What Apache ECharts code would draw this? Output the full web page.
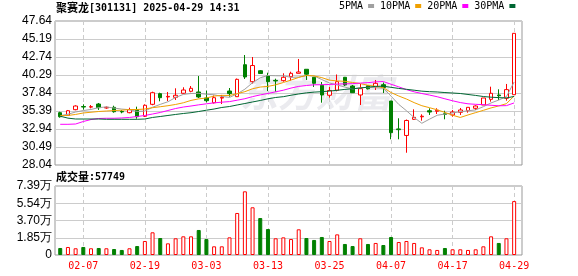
<!DOCTYPE html>
<html><head><meta charset="utf-8">
<script src="https://cdn.jsdelivr.net/npm/echarts@6/dist/echarts.min.js"></script>
<style>html,body{margin:0;padding:0;background:#fff}#c{width:578px;height:276px}</style>
</head><body><div id="c"></div>
<script>
const dates = ['01-27','02-05','02-06','02-07','02-10','02-11','02-12','02-13','02-14','02-17',
'02-18','02-19','02-20','02-21','02-24','02-25','02-26','02-27','02-28','03-03',
'03-04','03-05','03-06','03-07','03-10','03-11','03-12','03-13','03-14','03-17',
'03-18','03-19','03-20','03-21','03-24','03-25','03-26','03-27','03-28','03-31',
'04-01','04-02','04-03','04-07','04-08','04-09','04-10','04-11','04-14','04-15',
'04-16','04-17','04-18','04-21','04-22','04-23','04-24','04-25','04-28','04-29'];
const opens = [35.16,34.81,35.57,36.00,35.92,36.34,35.80,35.89,35.32,35.16,
35.57,34.67,36.30,37.75,37.30,37.25,37.80,38.07,37.98,37.16,
36.51,37.15,38.11,37.34,41.69,39.38,40.87,40.19,39.56,39.52,
40.06,40.52,41.07,39.98,38.89,37.53,38.21,39.98,38.79,37.57,
38.83,38.70,38.97,36.75,32.95,32.06,34.26,34.60,35.43,35.35,
35.02,34.85,35.21,35.43,35.76,36.21,36.98,37.57,37.12,37.61];
const closes = [34.61,35.43,36.07,35.93,35.98,35.84,35.90,35.29,35.26,35.57,
34.61,36.17,37.88,37.20,37.38,37.53,38.25,38.48,37.30,36.79,
37.20,37.25,37.75,39.70,40.02,41.58,40.49,39.38,39.48,39.98,
40.52,40.70,40.40,39.16,37.57,38.18,39.38,38.93,37.88,38.43,
38.41,39.16,38.59,32.44,32.85,34.10,34.53,34.68,35.25,35.49,
34.94,35.25,35.53,35.89,36.07,37.16,37.80,37.46,38.30,45.96];
const lows = [34.48,34.71,35.49,35.57,35.75,35.53,35.70,35.16,35.08,35.08,
34.34,34.57,36.17,36.71,36.75,36.89,37.70,37.94,37.15,36.55,
36.41,36.34,37.34,37.30,39.75,39.13,40.43,38.10,38.02,39.38,
39.52,40.52,39.61,38.66,36.52,37.20,38.07,38.79,37.84,36.21,
38.32,38.25,37.84,31.54,31.54,29.71,34.17,34.07,34.85,34.98,
34.26,34.61,34.85,35.16,35.53,36.21,36.66,36.89,36.79,37.61];
const highs = [35.29,35.53,36.17,36.30,36.20,36.48,36.00,36.11,35.52,35.84,
35.98,36.30,38.02,37.88,37.98,38.48,38.62,38.79,40.15,38.18,
37.50,37.57,38.52,39.81,43.01,42.74,40.97,40.60,39.79,40.52,
40.74,42.47,41.07,40.02,39.34,38.66,40.36,40.02,38.93,39.07,
38.89,39.61,39.27,36.75,34.40,34.23,35.62,34.94,35.76,35.76,
35.43,35.53,35.80,35.89,36.17,37.16,38.70,38.34,39.07,45.96];
const volumes = [7500,8600,7200,8600,7200,7500,7200,6400,5400,7200,
9600,15000,24300,18200,12500,17900,20000,20000,26800,17100,
9300,9300,18900,45000,68200,51100,39600,27800,17900,18900,
17100,27500,18200,16100,19300,15000,22100,11800,9600,17900,
11800,12900,10700,19300,13900,15000,12900,8200,6100,5400,
7500,6100,6100,5400,6100,9300,20000,12900,17900,57749];
const ma5 = [34.75,34.95,35.25,35.45,35.60,35.85,35.94,35.79,35.65,35.57,
35.33,35.38,35.90,36.29,36.65,37.23,37.65,37.77,37.79,37.67,
37.60,37.38,37.24,37.72,38.36,39.24,39.91,40.23,40.19,40.18,
39.97,40.01,40.22,40.15,39.67,39.20,38.94,38.64,38.39,38.56,
38.61,38.56,38.49,37.41,36.29,35.43,34.50,33.72,34.28,34.81,
34.98,35.12,35.29,35.42,35.54,35.98,36.49,36.88,37.36,39.34];
const ma10 = [34.75,34.78,34.92,35.12,35.22,35.32,35.39,35.45,35.50,35.59,
35.59,35.66,35.84,35.97,36.11,36.28,36.51,36.83,37.04,37.16,
37.42,37.52,37.50,37.75,38.02,38.42,38.65,38.74,38.95,39.27,
39.60,39.96,40.23,40.17,39.93,39.59,39.48,39.43,39.27,39.12,
38.90,38.75,38.57,37.90,37.43,37.02,36.53,36.11,35.84,35.55,
35.20,34.81,34.51,34.85,35.17,35.48,35.81,36.08,36.39,37.44];
const ma20 = [33.58,33.58,33.62,33.96,34.23,34.37,34.40,34.40,34.44,34.51,
34.64,34.78,34.98,35.19,35.46,35.73,35.93,36.07,36.23,36.37,
36.50,36.59,36.67,36.86,37.06,37.35,37.58,37.78,38.00,38.22,
38.51,38.74,38.86,38.96,38.97,39.00,39.06,39.08,39.11,39.19,
39.25,39.36,39.40,39.03,38.68,38.30,38.00,37.77,37.56,37.33,
37.05,36.78,36.54,36.37,36.30,36.25,36.17,36.10,36.12,36.49];
const ma30 = [34.68,34.42,34.30,34.30,34.30,34.30,34.26,34.26,34.26,34.26,
34.26,34.30,34.51,34.64,34.78,34.92,35.05,35.16,35.32,35.50,
35.66,35.87,36.00,36.21,36.41,36.62,36.82,37.05,37.23,37.34,
37.54,37.71,37.86,37.96,38.02,38.10,38.21,38.33,38.42,38.52,
38.64,38.74,38.77,38.61,38.46,38.34,38.22,38.09,38.02,37.98,
37.90,37.84,37.77,37.64,37.51,37.36,37.27,37.21,37.17,37.37];
const priceTicks = [28.04,30.49,32.94,35.39,37.84,40.29,42.74,45.19,47.64];
const volTicks = [0,18475,36950,55425,73900];
const volTickLabels = ['0','1.85万','3.70万','5.54万','7.39万'];
const xTickLabels = ['02-07','02-19','03-03','03-13','03-25','04-07','04-17','04-29'];
const maNames = ['5PMA','10PMA','20PMA','30PMA'];
const lastVolume = 57749;

const RED = '#ff0000', GREEN = '#008000';
const maColors = ['#a0a0a0','#f0a000','#ff00ff','#006633'];
const xTicks = xTickLabels.map(d => dates.indexOf(d));
const xMin = -0.68, xMax = 60.02;
const MONO = 'DejaVu Sans Mono', CJK = 'Noto Sans CJK SC', SANS = 'Liberation Sans';

const chart = echarts.init(document.getElementById('c'), null, {renderer: 'canvas'});
const candleData = dates.map((d, i) => [i, opens[i], closes[i], lows[i], highs[i]]);
const volData = volumes.map((v, i) => {
  const up = i === 0 ? closes[i] > opens[i] : closes[i] > closes[i - 1];
  return {value: [i, v], itemStyle: up ? {color: '#fff', borderColor: RED, borderWidth: 1} : {color: GREEN, borderColor: GREEN, borderWidth: 1}};
});
const maArrays = [ma5, ma10, ma20, ma30];

const gridLine = {lineStyle: {color: '#cccccc', width: 1}};
const dashLine = {show: true, lineStyle: {color: '#cccccc', width: 1, type: [4, 3]}};

chart.setOption({
  animation: false,
  backgroundColor: '#fff',
  title: [
    {left: 56, top: 1, padding: 0,
     text: '{c|聚赛龙}{a|[301131] 2025-04-29 14:31}',
     textStyle: {rich: {c: {fontFamily: CJK, fontSize: 11, color: '#000', lineHeight: 14}, a: {fontFamily: MONO, fontSize: 10, color: '#000', lineHeight: 14}}}},
    {left: 56, top: 170, padding: 0,
     text: '{c|成交量}{a|:' + lastVolume + '}',
     textStyle: {rich: {c: {fontFamily: CJK, fontSize: 11, color: '#000', lineHeight: 14}, a: {fontFamily: MONO, fontSize: 10, color: '#000', lineHeight: 14}}}}
  ],
  legend: {
    left: 339, top: 1, padding: 0, itemWidth: 6, itemHeight: 4, itemGap: 6, align: 'right', icon: 'rect',
    textStyle: {fontFamily: MONO, fontSize: 10, color: '#000'},
    data: maNames
  },
  graphic: [{
    type: 'text', left: 240, top: 74, z: 0, silent: true,
    style: {text: '东方财富', fill: '#ebebef', font: 'italic bold 38px "Noto Sans CJK SC"'}
  }],
  grid: [
    {left: 55, right: 56, top: 21, height: 144, show: true, borderColor: '#999', borderWidth: 1, backgroundColor: 'transparent'},
    {left: 55, right: 56, top: 186, height: 69, show: true, borderColor: '#999', borderWidth: 1, backgroundColor: 'transparent'}
  ],
  xAxis: [
    {gridIndex: 0, type: 'value', min: xMin, max: xMax,
     axisLine: {show: false}, axisTick: {show: false, customValues: xTicks},
     axisLabel: {show: false, customValues: xTicks}, splitLine: dashLine},
    {gridIndex: 1, type: 'value', min: xMin, max: xMax,
     axisLine: {show: false}, axisTick: {show: false, customValues: xTicks},
     axisLabel: {show: true, customValues: xTicks, formatter: v => dates[Math.round(v)], color: RED, fontFamily: MONO, fontSize: 10, margin: 6},
     splitLine: dashLine}
  ],
  yAxis: [
    {gridIndex: 0, type: 'value', min: priceTicks[0], max: priceTicks[priceTicks.length - 1],
     axisLine: {show: false}, axisTick: {show: false, customValues: priceTicks},
     axisLabel: {customValues: priceTicks, formatter: v => v.toFixed(2), color: '#000', fontFamily: SANS, fontSize: 12, margin: 3},
     splitLine: Object.assign({show: true}, gridLine)},
    {gridIndex: 1, type: 'value', min: volTicks[0], max: volTicks[volTicks.length - 1],
     axisLine: {show: false}, axisTick: {show: false, customValues: volTicks},
     axisLabel: {customValues: volTicks, formatter: v => volTickLabels[volTicks.indexOf(v)], color: '#000', fontFamily: SANS, fontSize: 12, margin: 3},
     splitLine: Object.assign({show: true}, gridLine)}
  ],
  series: [
    {type: 'candlestick', name: 'K', xAxisIndex: 0, yAxisIndex: 0, barWidth: 4, z: 3,
     encode: {x: 0, y: [1, 2, 3, 4]},
     itemStyle: {color: '#fff', color0: GREEN, borderColor: RED, borderColor0: GREEN, borderWidth: 1},
     data: candleData},
    ...maNames.map((n, k) => ({
      type: 'line', name: n, xAxisIndex: 0, yAxisIndex: 0, symbol: 'none', z: 4,
      lineStyle: {color: maColors[k], width: 1}, itemStyle: {color: maColors[k]},
      data: maArrays[k].map((v, i) => [i, v])
    })),
    {type: 'bar', name: 'VOL', xAxisIndex: 1, yAxisIndex: 1, barWidth: 4, data: volData}
  ]
});
</script></body></html>
